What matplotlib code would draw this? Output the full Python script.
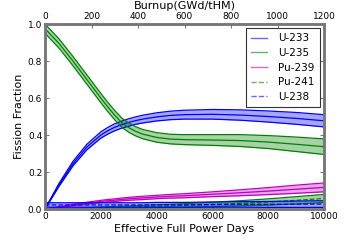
import numpy as np
import matplotlib
matplotlib.use('Agg')
import matplotlib.pyplot as plt
from matplotlib.lines import Line2D

# effective full power days
efpd = [0, 500, 1000, 1500, 2000, 2250, 2500, 2750, 3000, 3250, 3500, 4000, 4500, 5000,
        6000, 7000, 8000, 9000, 10000]

u233 = [0.0, 0.13, 0.245, 0.335, 0.40, 0.423, 0.442, 0.456, 0.468, 0.478, 0.486, 0.498, 0.506, 0.51,
        0.512, 0.508, 0.50, 0.49, 0.477]
u233_err = [0.0, 0.008, 0.012, 0.015, 0.017, 0.018, 0.019, 0.019, 0.02, 0.02, 0.021, 0.022, 0.023, 0.024,
            0.026, 0.028, 0.03, 0.032, 0.033]

u235 = [0.975, 0.895, 0.80, 0.70, 0.60, 0.552, 0.507, 0.467, 0.44, 0.42, 0.405, 0.387, 0.378, 0.375,
        0.373, 0.37, 0.362, 0.35, 0.337]
u235_err = [0.025, 0.025, 0.025, 0.025, 0.025, 0.025, 0.025, 0.025, 0.025, 0.025, 0.025, 0.026, 0.026, 0.027,
            0.029, 0.032, 0.035, 0.039, 0.042]

pu239 = [0.0, 0.01, 0.022, 0.032, 0.041, 0.045, 0.048, 0.052, 0.055, 0.058, 0.06, 0.065, 0.069, 0.072,
         0.08, 0.088, 0.097, 0.107, 0.117]
pu239_err = [0.0, 0.002, 0.004, 0.005, 0.006, 0.0065, 0.007, 0.0075, 0.008, 0.0085, 0.009, 0.009, 0.01, 0.011,
             0.013, 0.016, 0.019, 0.022, 0.024]

pu241 = [0.0, 0.001, 0.002, 0.004, 0.007, 0.008, 0.009, 0.01, 0.011, 0.012, 0.013, 0.015, 0.017, 0.019,
         0.025, 0.031, 0.038, 0.047, 0.057]
pu241_err = [0.0, 0.001, 0.002, 0.003, 0.004, 0.0045, 0.005, 0.0055, 0.006, 0.0065, 0.007, 0.008, 0.009, 0.01,
             0.012, 0.014, 0.017, 0.02, 0.022]

u238 = [0.022, 0.022, 0.022, 0.022, 0.022, 0.022, 0.022, 0.022, 0.022, 0.022, 0.022, 0.023, 0.023, 0.023,
        0.024, 0.025, 0.025, 0.026, 0.027]
u238_err = [0.012, 0.012, 0.012, 0.012, 0.012, 0.012, 0.012, 0.012, 0.012, 0.012, 0.012, 0.013, 0.013, 0.013,
            0.014, 0.015, 0.016, 0.017, 0.018]

burnup_ticks = [0, 200, 400, 600, 800, 1000, 1200]

series = [
    ('U-233', u233, u233_err, 'b', '-'),
    ('U-235', u235, u235_err, 'g', '-'),
    ('Pu-239', pu239, pu239_err, 'm', '-'),
    ('Pu-241', pu241, pu241_err, 'g', '--'),
    ('U-238', u238, u238_err, 'b', '--'),
]

SPINE = '#777777'
fig = plt.figure(figsize=(3.6, 2.4), dpi=100)
ax = fig.add_axes([0.125, 0.129, 0.775, 0.771])

x = np.array(efpd)
handles = []
for name, y, err, c, ls in series:
    y = np.array(y)
    e = np.array(err)
    ax.fill_between(x, y - e, y + e, color=c, alpha=0.35, lw=0)
    ax.plot(x, y + e, color=c, lw=0.9)
    ax.plot(x, y - e, color=c, lw=0.9)
    ax.plot(x, y, color=c, lw=0.9, ls=ls)
    handles.append(Line2D([], [], color=c, ls=ls, lw=1, alpha=0.6, label=name))

ax.set_xlim(0, 10000)
ax.set_ylim(0, 1.0)
ax.set_xticks([0, 2000, 4000, 6000, 8000, 10000])
ax.set_yticks([0.0, 0.2, 0.4, 0.6, 0.8, 1.0])
ax.set_xlabel('Effective Full Power Days', fontsize=8, labelpad=2)
ax.set_ylabel('Fission Fraction', fontsize=8, labelpad=3)
ax.tick_params(direction='in', labelsize=6.5, color=SPINE, length=3, width=0.8,
               right=True, pad=2)

ax2 = ax.twiny()
ax2.set_xlim(0, 1200)
ax2.set_xticks(burnup_ticks)
ax2.set_xlabel('Burnup(GWd/tHM)', fontsize=8, labelpad=2)
ax2.tick_params(direction='in', labelsize=6.5, color=SPINE, length=3, width=0.8, pad=2)

for a in (ax, ax2):
    for s in a.spines.values():
        s.set_color(SPINE)
        s.set_linewidth(1.8)

leg = ax.legend(handles=handles, loc='upper right', fontsize=7.5, fancybox=False,
                labelspacing=0.45, handlelength=1.5, handletextpad=1.1,
                borderpad=0.5, borderaxespad=0.4)
leg.get_frame().set_edgecolor('black')
leg.get_frame().set_linewidth(0.8)

plt.savefig('out.png', dpi=100)
